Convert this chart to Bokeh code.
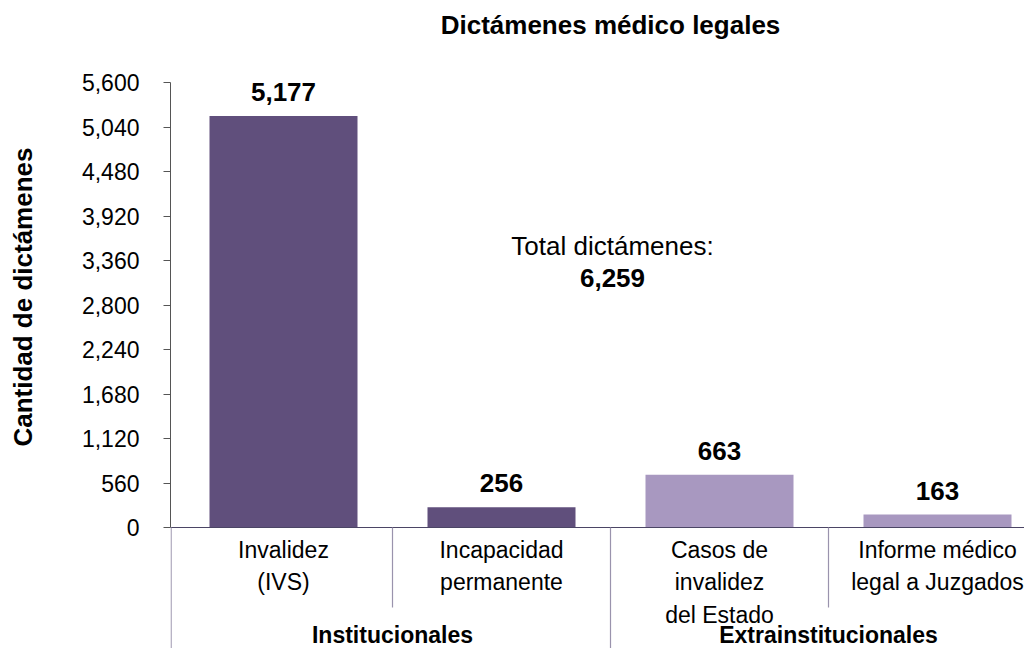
from bokeh.plotting import figure
from bokeh.models import Range1d, FixedTicker, NumeralTickFormatter, Label, Title
from bokeh.core.properties import value
from bokeh.embed import file_html
from bokeh.resources import INLINE

# ---- data ----
categories = ["Invalidez\n(IVS)", "Incapacidad\npermanente",
              "Casos de\ninvalidez\ndel Estado", "Informe médico\nlegal a Juzgados"]
groups = ["Institucionales", "Extrainstitucionales"]
group_sizes = [2, 2]
values = [5177, 256, 663, 163]
value_labels = ["5,177", "256", "663", "163"]
bar_colors = ["#604f7c", "#604f7c", "#a898c0", "#a898c0"]
y_ticks = [0, 560, 1120, 1680, 2240, 2800, 3360, 3920, 4480, 5040, 5600]
total_label = "Total dictámenes:"
total_value = "6,259"
title_text = "Dictámenes médico legales"
y_label = "Cantidad de dictámenes"

FONT = "Liberation Sans"

# ---- layout geometry (pixels) ----
W, H = 1024, 648
frame_left = 170          # canvas px of frame left
y0_px = 527               # canvas px of value 0
ymax_px = 82              # canvas px of top tick
cat_px = 218              # px per category
u0_px = 174               # canvas px where category 0 starts
ppu = (y0_px - ymax_px) / y_ticks[-1]
BL = 8                    # baseline correction for alphabetic text


def ypx(px):
    """data value located at canvas pixel row px"""
    return (y0_px - px) / ppu


def xpx(px):
    return (px - u0_px) / cat_px


x_start = xpx(frame_left)
x_end = xpx(W)
y_start = ypx(H)
y_end = ypx(0)

p = figure(width=W, height=H, x_range=Range1d(x_start, x_end),
           y_range=Range1d(y_start, y_end), output_backend="svg",
           toolbar_location=None, x_axis_location=None,
           min_border_left=frame_left, min_border_right=0,
           min_border_top=0, min_border_bottom=0)
p.outline_line_color = None
p.grid.visible = False
p.background_fill_color = "white"

# y axis
ax = p.yaxis[0]
ax.bounds = (0, y_ticks[-1])
ax.ticker = FixedTicker(ticks=y_ticks)
ax.formatter = NumeralTickFormatter(format="0,0")
ax.major_tick_out = 7
ax.major_tick_in = 0
ax.minor_tick_out = 0
ax.minor_tick_in = 0
ax.axis_line_color = "#555555"
ax.major_tick_line_color = "#555555"
ax.major_label_text_font = FONT
ax.major_label_text_font_size = "23px"
ax.major_label_text_color = "#000000"
ax.major_label_standoff = 24
# invisible spacer label so the axis title sits further left
ax.axis_label = "."
ax.axis_label_text_font_size = "10px"
ax.axis_label_text_alpha = 0
ax.axis_label_standoff = 30

# y axis title (left panel, placed at the top end)
p.add_layout(Title(text=y_label, align="right", vertical_align="bottom",
                   offset=147, standoff=0, text_font=FONT,
                   text_font_style="bold", text_font_size="26px",
                   text_color="#000000"), "left")

centers = [i + 0.5 for i in range(len(categories))]

# bars
p.vbar(x=centers, top=values, bottom=0, width=148 / cat_px,
       fill_color=bar_colors, line_color=None)

# value labels
p.text(x=centers, y=values, text=value_labels, text_align="center",
       text_baseline="alphabetic", y_offset=-16 - BL, text_font=value(FONT),
       text_font_style="bold", text_font_size="26px", text_color="#000000")

# baseline
p.segment(x0=[x_start], y0=[0], x1=[x_end], y1=[0],
          line_color="#4b4565", line_width=1.2)

# separators
short_x = []
long_x = [x_start + 0.6 / cat_px]
pos = 0
for n in group_sizes:
    for k in range(1, n):
        short_x.append(pos + k)
    pos += n
    long_x.append(pos)
p.segment(x0=short_x, y0=[0] * len(short_x), x1=short_x,
          y1=[ypx(607)] * len(short_x), line_color="#9a93ad", line_width=1.2)
p.segment(x0=long_x, y0=[0] * len(long_x), x1=long_x,
          y1=[y_start] * len(long_x), line_color="#9a93ad", line_width=1.2)

# category labels
p.text(x=centers, y=[0] * len(centers), text=categories, text_align="center",
       text_baseline="top", y_offset=9, text_line_height=1.25,
       text_font=value(FONT), text_font_size="23px", text_color="#000000")

# group labels
gcenters = []
pos = 0
for n in group_sizes:
    gcenters.append(pos + n / 2)
    pos += n
p.text(x=gcenters, y=[ypx(642 - BL)] * len(gcenters), text=groups,
       text_align="center", text_baseline="alphabetic", text_font=value(FONT),
       text_font_style="bold", text_font_size="23px", text_color="#000000")

# total annotation
p.add_layout(Label(x=xpx(612), y=ypx(253 - BL), text=total_label,
                   text_align="center", text_baseline="alphabetic",
                   text_font=FONT, text_font_size="26px", text_color="#000000"))
p.add_layout(Label(x=xpx(612), y=ypx(285 - BL), text=total_value,
                   text_align="center", text_baseline="alphabetic",
                   text_font=FONT, text_font_style="bold",
                   text_font_size="26px", text_color="#000000"))

# title
p.add_layout(Label(x=xpx(610), y=ypx(32 - BL), text=title_text,
                   text_align="center", text_baseline="alphabetic",
                   text_font=FONT, text_font_style="bold",
                   text_font_size="26px", text_color="#000000"))

open("out.html", "w").write(file_html(p, INLINE))
